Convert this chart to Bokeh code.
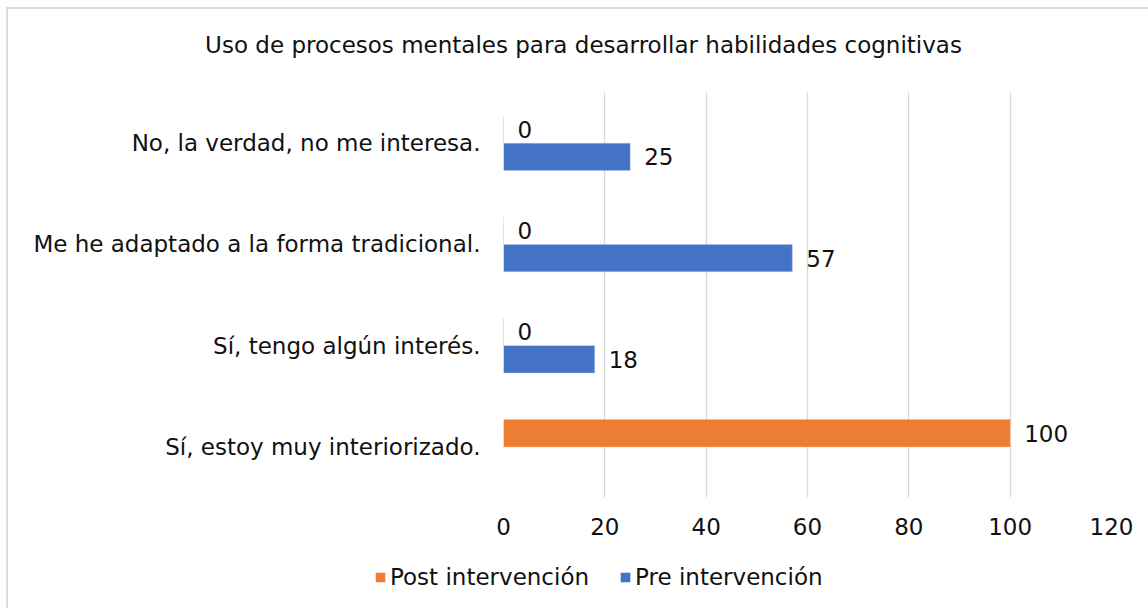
from bokeh.plotting import figure
from bokeh.layouts import column
from bokeh.models import (Range1d, FixedTicker, LabelSet, ColumnDataSource, Legend,
                          LegendItem)
from bokeh.core.properties import value
from bokeh.embed import file_html
from bokeh.resources import INLINE

# ---- data ----
categories = ["No, la verdad, no me interesa.",
              "Me he adaptado a la forma tradicional.",
              "Sí, tengo algún interés.",
              "Sí, estoy muy interiorizado."]
post_values = [0, 0, 0, 100]
pre_values = [25, 57, 18, None]
series_names = ["Post intervención", "Pre intervención"]
x_ticks = [0, 20, 40, 60, 80, 100, 120]
title_text = "Uso de procesos mentales para desarrollar habilidades cognitivas"

FONT = "DejaVu Sans"
FS = "23px"
TXT = "#111111"
ORANGE = "#ED7D31"
BLUE = "#4472C4"
GRID = "#d9d9d9"

n = len(categories)
centers = [n - 0.5 - i for i in range(n)]   # top category first
off = 0.135
bh = 0.27

W = 1140
H_TITLE, H_MAIN, H_LEG = 83, 455, 61


def blank(h):
    f = figure(width=W, height=h, output_backend="svg", toolbar_location=None,
               x_range=Range1d(0, W), y_range=Range1d(0, h),
               min_border=0, x_axis_location=None, y_axis_location=None)
    f.grid.visible = False
    f.outline_line_color = None
    f.background_fill_color = "white"
    f.border_fill_color = "white"
    f.frame_align = False
    return f


# ---- title ----
pt = blank(H_TITLE)
pt.text(x=[575], y=[48], text=[title_text], text_align="center",
        text_baseline="middle", text_font=value(FONT),
        text_font_size=value(FS), text_color=TXT)

# ---- main chart ----
p = figure(width=W, height=H_MAIN, output_backend="svg", toolbar_location=None,
           x_range=Range1d(0, 120), y_range=Range1d(0, n),
           min_border_left=495, min_border_right=37,
           min_border_top=0, min_border_bottom=50)
p.outline_line_color = None
p.background_fill_color = "white"
p.border_fill_color = "white"
p.frame_align = False


def rows(vals, shift):
    xs, ys, ts = [], [], []
    for c, v in zip(centers, vals):
        if v is None:
            continue
        xs.append(v); ys.append(c + shift); ts.append(str(v))
    return ColumnDataSource(dict(x=xs, y=ys, t=ts))


src_post = rows(post_values, off)
src_pre = rows(pre_values, -off)

p.hbar(y="y", right="x", left=0, height=bh, source=src_post,
       fill_color=ORANGE, line_color="#f4b183", line_width=0.5)
p.hbar(y="y", right="x", left=0, height=bh, source=src_pre,
       fill_color=BLUE, line_color="#b4c7e7", line_width=0.5)

for src in (src_post, src_pre):
    p.add_layout(LabelSet(x="x", y="y", text="t", source=src, x_offset=14,
                          text_baseline="middle", text_align="left",
                          text_font=value(FONT), text_font_size=value(FS),
                          text_color=TXT))

p.xaxis.ticker = FixedTicker(ticks=x_ticks)
p.xaxis.axis_line_color = None
p.xaxis.major_tick_line_color = None
p.xaxis.minor_tick_line_color = None
p.xaxis.major_label_text_font = FONT
p.xaxis.major_label_text_font_size = FS
p.xaxis.major_label_text_color = TXT
p.xaxis.major_label_standoff = 14

p.yaxis.ticker = FixedTicker(ticks=centers)
p.yaxis.major_label_overrides = {c: cat for c, cat in zip(centers, categories)}
p.yaxis.axis_line_color = None
p.yaxis.major_tick_line_color = None
p.yaxis.minor_tick_line_color = None
p.yaxis.major_label_text_font = FONT
p.yaxis.major_label_text_font_size = FS
p.yaxis.major_label_text_color = TXT
p.yaxis.major_label_standoff = 17

p.xgrid.grid_line_color = GRID
p.xgrid.grid_line_width = 1.3
p.ygrid.grid_line_color = None

# ---- legend (swatch renderers kept outside the visible range) ----
pl = blank(H_LEG)
lr_post = pl.hbar(y=[-100], right=[1], left=0, height=1,
                  fill_color=ORANGE, line_color=None)
lr_pre = pl.hbar(y=[-100], right=[1], left=0, height=1,
                 fill_color=BLUE, line_color=None)
legend = Legend(items=[LegendItem(label=series_names[0], renderers=[lr_post]),
                       LegendItem(label=series_names[1], renderers=[lr_pre])],
                orientation="horizontal", location=(366, 18),
                glyph_width=12, glyph_height=12, label_height=22,
                label_standoff=4, spacing=30, padding=0, margin=0,
                border_line_color=None, background_fill_alpha=0,
                label_text_font=FONT, label_text_font_size=FS,
                label_text_color=TXT)
pl.add_layout(legend, "center")

layout = column(pt, p, pl, spacing=0)
layout.styles = {"margin-left": "6px", "margin-top": "7px",
                 "border-top": "2px solid #dcdcdc", "border-left": "2px solid #dcdcdc"}

open("out.html", "w").write(file_html(layout, INLINE))
